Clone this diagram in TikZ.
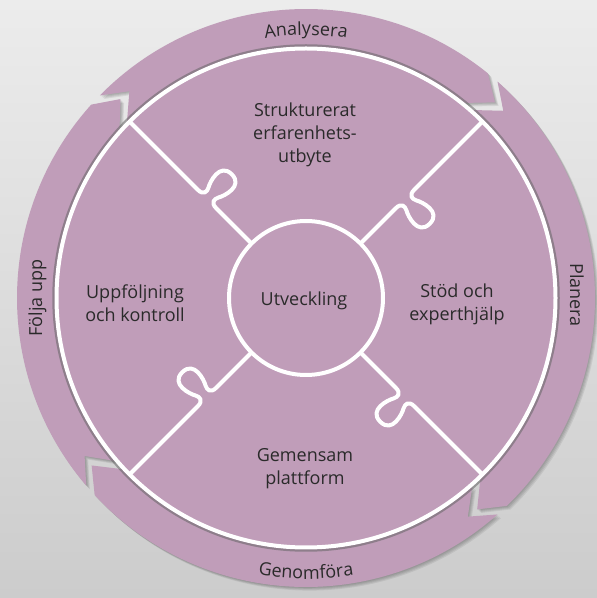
\documentclass[tikz,border=0pt]{standalone}
\usepackage{fontspec}
\setmainfont{Open Sans}
\usetikzlibrary{decorations.text}
\definecolor{lila}{RGB}{192,157,185}
\definecolor{txt}{RGB}{42,42,42}
\definecolor{bgtop}{RGB}{236,236,236}
\definecolor{bgbot}{RGB}{204,204,204}
\newcommand\labfont{\fontsize{18}{23}\selectfont}
\begin{document}
\begin{tikzpicture}[x=1pt,y=1pt,
  segment/.style={fill=lila},
  segshadow/.style={fill=black, opacity=0.07},
  piece/.style={draw=white, line width=4pt, line join=round, line cap=round},
  lab/.style={font=\labfont, text=txt, align=center, inner sep=0pt},
  sidelab/.style={font=\labfont, text=txt, inner sep=0pt, anchor=base},
  ringtext/.style={decorate, decoration={text along path, text align=center, text color=txt, text={|\labfont|#1}}}
]
\useasboundingbox (0,0) rectangle (597,598);
\shade[top color=bgtop, bottom color=bgbot] (0,0) rectangle (597,598);
\begin{scope}[shift={(306,300)}]
  % shadows of the ring segments
  \foreach \aA/\aB in {135.5/51, 48.5/-46, -48.5/-137, 220.5/138}{
    \foreach \k in {1,...,4}{
      \fill[segshadow, shift={(0.9*\k,-0.9*\k)}] (\aA:289) arc[start angle=\aA, end angle=\aB, radius=289]
        -- (\aB-5:272) -- (\aB:251) arc[start angle=\aB, end angle=\aA, radius=251]
        -- (\aA-5:272) -- cycle;
    }
  }
  % ring segments (arrows)
  \foreach \aA/\aB in {135.5/51, 48.5/-46, -48.5/-137, 220.5/138}{
    \fill[segment] (\aA:289) arc[start angle=\aA, end angle=\aB, radius=289]
      -- (\aB-5:272) -- (\aB:251) arc[start angle=\aB, end angle=\aA, radius=251]
      -- (\aA-5:272) -- cycle;
  }
  % ring labels
  \path[ringtext=Analysera] (130:263) arc[start angle=130, end angle=50, radius=263];
  \path[ringtext=Genomföra] (-130:281) arc[start angle=-130, end angle=-50, radius=281];
  \node[sidelab, rotate=-90] (planera) at (264,3) {Planera};
  \node[sidelab, rotate=90] (folja) at (-264,0) {Följa upp};
  % inner disk
  \draw[black!60, opacity=0.55, line width=2.5pt] (0,0) circle (252.5);
  \fill[lila] (0,0) circle (249.5);
  \draw[white, line width=4pt] (0,0) circle (249.5);
  % puzzle lines with tabs
  \foreach \t in {45,135,225,315}{
    \begin{scope}[rotate=\t]
      \draw[piece] (77,0) -- (127,0) .. controls (135,0) and (135,-5) .. (133,-9)
        .. controls (130,-14) and (123,-35) .. (140,-35)
        .. controls (157,-35) and (150,-14) .. (147,-9)
        .. controls (145,-5) and (145,0) .. (153,0) -- (249.5,0);
    \end{scope}
  }
  % centre
  \draw[white, line width=4pt, fill=lila] (0,0) circle (77);
  \node[lab] (utv) at (-2,-3) {Utveckling};
  \node[lab] (top) at (-1,163) {Strukturerat\\erfarenhets-\\utbyte};
  \node[lab] (left) at (-171,-5) {Uppföljning\\och kontroll};
  \node[lab] (right) at (151,-6) {Stöd och\\experthjälp};
  \node[lab] (bottom) at (-1,-171) {Gemensam\\plattform};
\end{scope}
\end{tikzpicture}
\end{document}
